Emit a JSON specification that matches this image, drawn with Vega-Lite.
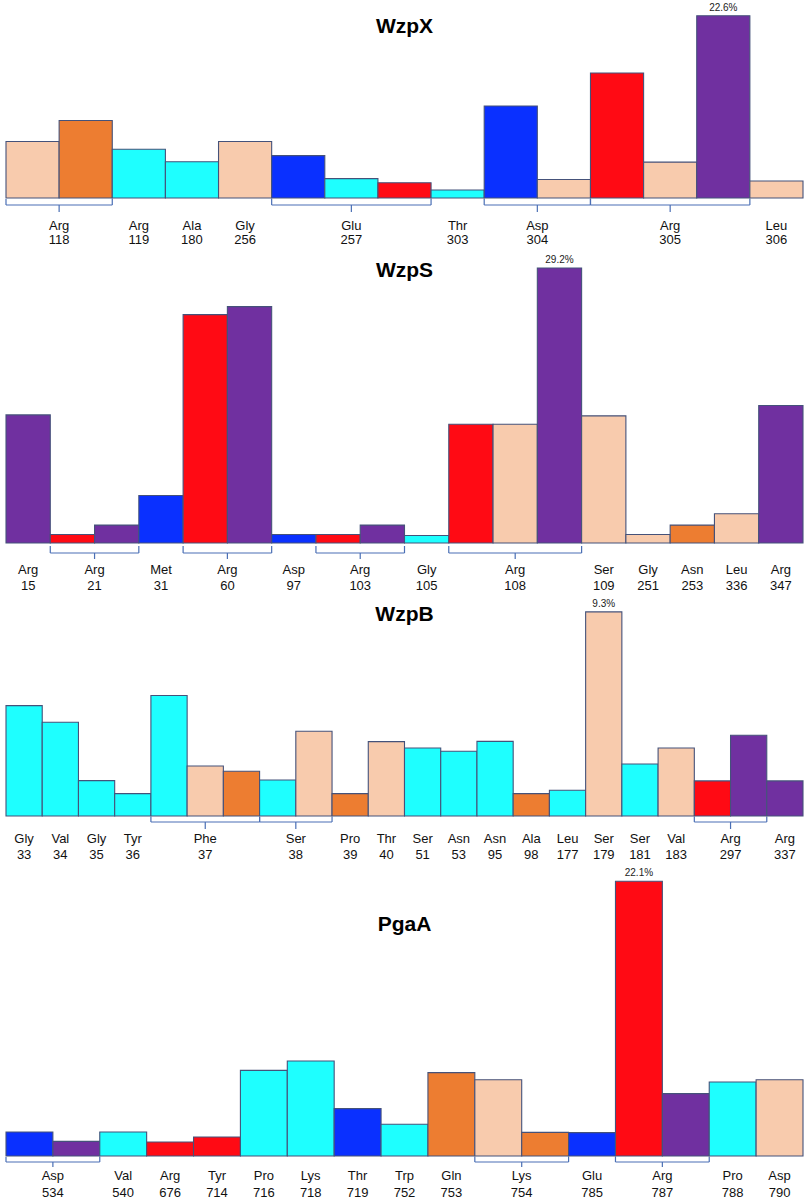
{
"$schema": "https://vega.github.io/schema/vega-lite/v6.json",
"padding": {"left": 5, "right": 5, "top": 0, "bottom": 0},
"config": {"view": {"stroke": null}},
"datasets": {
"bars": [
{"p":"WzpX","i":0,"c":"peach","v":7.0},{"p":"WzpX","i":1,"c":"orange","v":9.6},{"p":"WzpX","i":2,"c":"cyan","v":6.05},{"p":"WzpX","i":3,"c":"cyan","v":4.5},{"p":"WzpX","i":4,"c":"peach","v":7.0},{"p":"WzpX","i":5,"c":"blue","v":5.25},{"p":"WzpX","i":6,"c":"cyan","v":2.4},{"p":"WzpX","i":7,"c":"red","v":1.9},{"p":"WzpX","i":8,"c":"cyan","v":1.0},{"p":"WzpX","i":9,"c":"blue","v":11.4},{"p":"WzpX","i":10,"c":"peach","v":2.3},{"p":"WzpX","i":11,"c":"red","v":15.5},{"p":"WzpX","i":12,"c":"peach","v":4.45},{"p":"WzpX","i":13,"c":"purple","v":22.6},{"p":"WzpX","i":14,"c":"peach","v":2.1},
{"p":"WzpS","i":0,"c":"purple","v":13.6},{"p":"WzpS","i":1,"c":"red","v":0.9},{"p":"WzpS","i":2,"c":"purple","v":1.9},{"p":"WzpS","i":3,"c":"blue","v":5.05},{"p":"WzpS","i":4,"c":"red","v":24.25},{"p":"WzpS","i":5,"c":"purple","v":25.1},{"p":"WzpS","i":6,"c":"blue","v":0.9},{"p":"WzpS","i":7,"c":"red","v":0.9},{"p":"WzpS","i":8,"c":"purple","v":1.9},{"p":"WzpS","i":9,"c":"cyan","v":0.8},{"p":"WzpS","i":10,"c":"red","v":12.6},{"p":"WzpS","i":11,"c":"peach","v":12.6},{"p":"WzpS","i":12,"c":"purple","v":29.2},{"p":"WzpS","i":13,"c":"peach","v":13.5},{"p":"WzpS","i":14,"c":"peach","v":0.9},{"p":"WzpS","i":15,"c":"orange","v":1.9},{"p":"WzpS","i":16,"c":"peach","v":3.1},{"p":"WzpS","i":17,"c":"purple","v":14.6},
{"p":"WzpB","i":0,"c":"cyan","v":5.03},{"p":"WzpB","i":1,"c":"cyan","v":4.27},{"p":"WzpB","i":2,"c":"cyan","v":1.61},{"p":"WzpB","i":3,"c":"cyan","v":1.02},{"p":"WzpB","i":4,"c":"cyan","v":5.49},{"p":"WzpB","i":5,"c":"peach","v":2.28},{"p":"WzpB","i":6,"c":"orange","v":2.04},{"p":"WzpB","i":7,"c":"cyan","v":1.64},{"p":"WzpB","i":8,"c":"peach","v":3.86},{"p":"WzpB","i":9,"c":"orange","v":1.02},{"p":"WzpB","i":10,"c":"peach","v":3.39},{"p":"WzpB","i":11,"c":"cyan","v":3.1},{"p":"WzpB","i":12,"c":"cyan","v":2.95},{"p":"WzpB","i":13,"c":"cyan","v":3.4},{"p":"WzpB","i":14,"c":"orange","v":1.02},{"p":"WzpB","i":15,"c":"cyan","v":1.17},{"p":"WzpB","i":16,"c":"peach","v":9.3},{"p":"WzpB","i":17,"c":"cyan","v":2.37},{"p":"WzpB","i":18,"c":"peach","v":3.1},{"p":"WzpB","i":19,"c":"red","v":1.6},{"p":"WzpB","i":20,"c":"purple","v":3.68},{"p":"WzpB","i":21,"c":"purple","v":1.6},
{"p":"PgaA","i":0,"c":"blue","v":1.93},{"p":"PgaA","i":1,"c":"purple","v":1.18},{"p":"PgaA","i":2,"c":"cyan","v":1.93},{"p":"PgaA","i":3,"c":"red","v":1.13},{"p":"PgaA","i":4,"c":"red","v":1.53},{"p":"PgaA","i":5,"c":"cyan","v":6.89},{"p":"PgaA","i":6,"c":"cyan","v":7.64},{"p":"PgaA","i":7,"c":"blue","v":3.81},{"p":"PgaA","i":8,"c":"cyan","v":2.55},{"p":"PgaA","i":9,"c":"orange","v":6.71},{"p":"PgaA","i":10,"c":"peach","v":6.14},{"p":"PgaA","i":11,"c":"orange","v":1.9},{"p":"PgaA","i":12,"c":"blue","v":1.88},{"p":"PgaA","i":13,"c":"red","v":22.1},{"p":"PgaA","i":14,"c":"purple","v":5.02},{"p":"PgaA","i":15,"c":"cyan","v":5.95},{"p":"PgaA","i":16,"c":"peach","v":6.14}
],
"tops": [
{"p":"WzpX","m":13.5,"v":22.6,"lab":"22.6%"},
{"p":"WzpS","m":12.5,"v":29.2,"lab":"29.2%"},
{"p":"WzpB","m":16.5,"v":9.3,"lab":"9.3%"},
{"p":"PgaA","m":13.5,"v":22.1,"lab":"22.1%"}
],
"groups": [
{"p":"WzpX","s":0,"e":2,"m":1,"res":"Arg","num":"118"},{"p":"WzpX","s":2,"e":3,"m":2.5,"res":"Arg","num":"119"},{"p":"WzpX","s":3,"e":4,"m":3.5,"res":"Ala","num":"180"},{"p":"WzpX","s":4,"e":5,"m":4.5,"res":"Gly","num":"256"},{"p":"WzpX","s":5,"e":8,"m":6.5,"res":"Glu","num":"257"},{"p":"WzpX","s":8,"e":9,"m":8.5,"res":"Thr","num":"303"},{"p":"WzpX","s":9,"e":11,"m":10,"res":"Asp","num":"304"},{"p":"WzpX","s":11,"e":14,"m":12.5,"res":"Arg","num":"305"},{"p":"WzpX","s":14,"e":15,"m":14.5,"res":"Leu","num":"306"},
{"p":"WzpS","s":0,"e":1,"m":0.5,"res":"Arg","num":"15"},{"p":"WzpS","s":1,"e":3,"m":2,"res":"Arg","num":"21"},{"p":"WzpS","s":3,"e":4,"m":3.5,"res":"Met","num":"31"},{"p":"WzpS","s":4,"e":6,"m":5,"res":"Arg","num":"60"},{"p":"WzpS","s":6,"e":7,"m":6.5,"res":"Asp","num":"97"},{"p":"WzpS","s":7,"e":9,"m":8,"res":"Arg","num":"103"},{"p":"WzpS","s":9,"e":10,"m":9.5,"res":"Gly","num":"105"},{"p":"WzpS","s":10,"e":13,"m":11.5,"res":"Arg","num":"108"},{"p":"WzpS","s":13,"e":14,"m":13.5,"res":"Ser","num":"109"},{"p":"WzpS","s":14,"e":15,"m":14.5,"res":"Gly","num":"251"},{"p":"WzpS","s":15,"e":16,"m":15.5,"res":"Asn","num":"253"},{"p":"WzpS","s":16,"e":17,"m":16.5,"res":"Leu","num":"336"},{"p":"WzpS","s":17,"e":18,"m":17.5,"res":"Arg","num":"347"},
{"p":"WzpB","s":0,"e":1,"m":0.5,"res":"Gly","num":"33"},{"p":"WzpB","s":1,"e":2,"m":1.5,"res":"Val","num":"34"},{"p":"WzpB","s":2,"e":3,"m":2.5,"res":"Gly","num":"35"},{"p":"WzpB","s":3,"e":4,"m":3.5,"res":"Tyr","num":"36"},{"p":"WzpB","s":4,"e":7,"m":5.5,"res":"Phe","num":"37"},{"p":"WzpB","s":7,"e":9,"m":8,"res":"Ser","num":"38"},{"p":"WzpB","s":9,"e":10,"m":9.5,"res":"Pro","num":"39"},{"p":"WzpB","s":10,"e":11,"m":10.5,"res":"Thr","num":"40"},{"p":"WzpB","s":11,"e":12,"m":11.5,"res":"Ser","num":"51"},{"p":"WzpB","s":12,"e":13,"m":12.5,"res":"Asn","num":"53"},{"p":"WzpB","s":13,"e":14,"m":13.5,"res":"Asn","num":"95"},{"p":"WzpB","s":14,"e":15,"m":14.5,"res":"Ala","num":"98"},{"p":"WzpB","s":15,"e":16,"m":15.5,"res":"Leu","num":"177"},{"p":"WzpB","s":16,"e":17,"m":16.5,"res":"Ser","num":"179"},{"p":"WzpB","s":17,"e":18,"m":17.5,"res":"Ser","num":"181"},{"p":"WzpB","s":18,"e":19,"m":18.5,"res":"Val","num":"183"},{"p":"WzpB","s":19,"e":21,"m":20,"res":"Arg","num":"297"},{"p":"WzpB","s":21,"e":22,"m":21.5,"res":"Arg","num":"337"},
{"p":"PgaA","s":0,"e":2,"m":1,"res":"Asp","num":"534"},{"p":"PgaA","s":2,"e":3,"m":2.5,"res":"Val","num":"540"},{"p":"PgaA","s":3,"e":4,"m":3.5,"res":"Arg","num":"676"},{"p":"PgaA","s":4,"e":5,"m":4.5,"res":"Tyr","num":"714"},{"p":"PgaA","s":5,"e":6,"m":5.5,"res":"Pro","num":"716"},{"p":"PgaA","s":6,"e":7,"m":6.5,"res":"Lys","num":"718"},{"p":"PgaA","s":7,"e":8,"m":7.5,"res":"Thr","num":"719"},{"p":"PgaA","s":8,"e":9,"m":8.5,"res":"Trp","num":"752"},{"p":"PgaA","s":9,"e":10,"m":9.5,"res":"Gln","num":"753"},{"p":"PgaA","s":10,"e":12,"m":11,"res":"Lys","num":"754"},{"p":"PgaA","s":12,"e":13,"m":12.5,"res":"Glu","num":"785"},{"p":"PgaA","s":13,"e":15,"m":14,"res":"Arg","num":"787"},{"p":"PgaA","s":15,"e":16,"m":15.5,"res":"Pro","num":"788"},{"p":"PgaA","s":16,"e":17,"m":16.5,"res":"Asp","num":"790"}
]
},
"vconcat": [
{
"width": 797, "height": 198,
"title": {"text": "WzpX", "offset": -48, "baseline": "middle", "anchor": "middle", "frame": "group", "fontSize": 21, "font": "Liberation Sans", "fontWeight": "bold", "color": "#000000"},
"resolve": {"scale": {"x": "independent"}},
"layer": [
{"data": {"name": "bars"}, "transform": [{"filter": "datum.p === 'WzpX'"}],
 "mark": {"type": "bar", "stroke": "#45527A", "strokeWidth": 1.1},
 "encoding": {
  "x": {"field": "i", "type": "ordinal", "axis": null, "scale": {"paddingInner": 0, "paddingOuter": 0}},
  "y": {"field": "v", "type": "quantitative", "axis": null, "scale": {"domain": [0, 24.55], "nice": false}},
  "color": {"field": "c", "type": "nominal", "legend": null, "scale": {"domain": ["peach","orange","cyan","blue","red","purple"], "range": ["#F8CBAD","#ED7D31","#1EFFFF","#0A30FF","#FF0A14","#7030A0"]}}}},
{"data": {"name": "tops"}, "transform": [{"filter": "datum.p === 'WzpX'"}],
 "mark": {"type": "text", "baseline": "bottom", "dy": -3, "fontSize": 10, "font": "Liberation Sans", "color": "#222222"},
 "encoding": {"x": {"field": "m", "type": "quantitative", "axis": null, "scale": {"domain": [0, 15], "nice": false, "zero": false}}, "y": {"field": "v", "type": "quantitative"}, "text": {"field": "lab"}}},
{"data": {"name": "groups"}, "transform": [{"filter": "datum.p === 'WzpX' && datum.e - datum.s > 1"}],
 "mark": {"type": "rule", "color": "#4A6FB5", "strokeWidth": 1.2, "yOffset": 7},
 "encoding": {"x": {"field": "s", "type": "quantitative", "axis": null, "scale": {"domain": [0, 15], "nice": false, "zero": false}}, "x2": {"field": "e"}, "y": {"datum": 0}}},
{"data": {"name": "groups"}, "transform": [{"filter": "datum.p === 'WzpX' && datum.e - datum.s > 1"}],
 "mark": {"type": "rule", "color": "#4A6FB5", "strokeWidth": 1.2, "yOffset": 1, "y2Offset": 7},
 "encoding": {"x": {"field": "s", "type": "quantitative", "axis": null, "scale": {"domain": [0, 15], "nice": false, "zero": false}}, "y": {"datum": 0}, "y2": {"datum": 0}}},
{"data": {"name": "groups"}, "transform": [{"filter": "datum.p === 'WzpX' && datum.e - datum.s > 1"}],
 "mark": {"type": "rule", "color": "#4A6FB5", "strokeWidth": 1.2, "yOffset": 1, "y2Offset": 7},
 "encoding": {"x": {"field": "e", "type": "quantitative", "axis": null, "scale": {"domain": [0, 15], "nice": false, "zero": false}}, "y": {"datum": 0}, "y2": {"datum": 0}}},
{"data": {"name": "groups"}, "transform": [{"filter": "datum.p === 'WzpX' && datum.e - datum.s > 1"}],
 "mark": {"type": "rule", "color": "#4A6FB5", "strokeWidth": 1.2, "yOffset": 7, "y2Offset": 14},
 "encoding": {"x": {"field": "m", "type": "quantitative", "axis": null, "scale": {"domain": [0, 15], "nice": false, "zero": false}}, "y": {"datum": 0}, "y2": {"datum": 0}}},
{"data": {"name": "groups"}, "transform": [{"filter": "datum.p === 'WzpX'"}],
 "mark": {"type": "text", "baseline": "middle", "dy": 28, "fontSize": 13, "font": "Liberation Sans", "color": "#111111"},
 "encoding": {"x": {"field": "m", "type": "quantitative", "axis": null, "scale": {"domain": [0, 15], "nice": false, "zero": false}}, "y": {"datum": 0}, "text": {"field": "res"}}},
{"data": {"name": "groups"}, "transform": [{"filter": "datum.p === 'WzpX'"}],
 "mark": {"type": "text", "baseline": "middle", "dy": 42, "fontSize": 13, "font": "Liberation Sans", "color": "#111111"},
 "encoding": {"x": {"field": "m", "type": "quantitative", "axis": null, "scale": {"domain": [0, 15], "nice": false, "zero": false}}, "y": {"datum": 0}, "text": {"field": "num"}}}
]
},
{
"width": 797, "height": 295,
"title": {"text": "WzpS", "offset": -44, "baseline": "middle", "anchor": "middle", "frame": "group", "fontSize": 21, "font": "Liberation Sans", "fontWeight": "bold", "color": "#000000"},
"resolve": {"scale": {"x": "independent"}},
"layer": [
{"data": {"name": "bars"}, "transform": [{"filter": "datum.p === 'WzpS'"}],
 "mark": {"type": "bar", "stroke": "#45527A", "strokeWidth": 1.1},
 "encoding": {
  "x": {"field": "i", "type": "ordinal", "axis": null, "scale": {"paddingInner": 0, "paddingOuter": 0}},
  "y": {"field": "v", "type": "quantitative", "axis": null, "scale": {"domain": [0, 31.32], "nice": false}},
  "color": {"field": "c", "type": "nominal", "legend": null, "scale": {"domain": ["peach","orange","cyan","blue","red","purple"], "range": ["#F8CBAD","#ED7D31","#1EFFFF","#0A30FF","#FF0A14","#7030A0"]}}}},
{"data": {"name": "tops"}, "transform": [{"filter": "datum.p === 'WzpS'"}],
 "mark": {"type": "text", "baseline": "bottom", "dy": -3, "fontSize": 10, "font": "Liberation Sans", "color": "#222222"},
 "encoding": {"x": {"field": "m", "type": "quantitative", "axis": null, "scale": {"domain": [0, 18], "nice": false, "zero": false}}, "y": {"field": "v", "type": "quantitative"}, "text": {"field": "lab"}}},
{"data": {"name": "groups"}, "transform": [{"filter": "datum.p === 'WzpS' && datum.e - datum.s > 1"}],
 "mark": {"type": "rule", "color": "#4A6FB5", "strokeWidth": 1.2, "yOffset": 10},
 "encoding": {"x": {"field": "s", "type": "quantitative", "axis": null, "scale": {"domain": [0, 18], "nice": false, "zero": false}}, "x2": {"field": "e"}, "y": {"datum": 0}}},
{"data": {"name": "groups"}, "transform": [{"filter": "datum.p === 'WzpS' && datum.e - datum.s > 1"}],
 "mark": {"type": "rule", "color": "#4A6FB5", "strokeWidth": 1.2, "yOffset": 3, "y2Offset": 10},
 "encoding": {"x": {"field": "s", "type": "quantitative", "axis": null, "scale": {"domain": [0, 18], "nice": false, "zero": false}}, "y": {"datum": 0}, "y2": {"datum": 0}}},
{"data": {"name": "groups"}, "transform": [{"filter": "datum.p === 'WzpS' && datum.e - datum.s > 1"}],
 "mark": {"type": "rule", "color": "#4A6FB5", "strokeWidth": 1.2, "yOffset": 3, "y2Offset": 10},
 "encoding": {"x": {"field": "e", "type": "quantitative", "axis": null, "scale": {"domain": [0, 18], "nice": false, "zero": false}}, "y": {"datum": 0}, "y2": {"datum": 0}}},
{"data": {"name": "groups"}, "transform": [{"filter": "datum.p === 'WzpS' && datum.e - datum.s > 1"}],
 "mark": {"type": "rule", "color": "#4A6FB5", "strokeWidth": 1.2, "yOffset": 10, "y2Offset": 16},
 "encoding": {"x": {"field": "m", "type": "quantitative", "axis": null, "scale": {"domain": [0, 18], "nice": false, "zero": false}}, "y": {"datum": 0}, "y2": {"datum": 0}}},
{"data": {"name": "groups"}, "transform": [{"filter": "datum.p === 'WzpS'"}],
 "mark": {"type": "text", "baseline": "middle", "dy": 27, "fontSize": 13, "font": "Liberation Sans", "color": "#111111"},
 "encoding": {"x": {"field": "m", "type": "quantitative", "axis": null, "scale": {"domain": [0, 18], "nice": false, "zero": false}}, "y": {"datum": 0}, "text": {"field": "res"}}},
{"data": {"name": "groups"}, "transform": [{"filter": "datum.p === 'WzpS'"}],
 "mark": {"type": "text", "baseline": "middle", "dy": 43, "fontSize": 13, "font": "Liberation Sans", "color": "#111111"},
 "encoding": {"x": {"field": "m", "type": "quantitative", "axis": null, "scale": {"domain": [0, 18], "nice": false, "zero": false}}, "y": {"datum": 0}, "text": {"field": "num"}}}
]
},
{
"width": 797, "height": 223,
"title": {"text": "WzpB", "offset": -43, "baseline": "middle", "anchor": "middle", "frame": "group", "fontSize": 21, "font": "Liberation Sans", "fontWeight": "bold", "color": "#000000"},
"resolve": {"scale": {"x": "independent"}},
"layer": [
{"data": {"name": "bars"}, "transform": [{"filter": "datum.p === 'WzpB'"}],
 "mark": {"type": "bar", "stroke": "#45527A", "strokeWidth": 1.1},
 "encoding": {
  "x": {"field": "i", "type": "ordinal", "axis": null, "scale": {"paddingInner": 0, "paddingOuter": 0}},
  "y": {"field": "v", "type": "quantitative", "axis": null, "scale": {"domain": [0, 10.16], "nice": false}},
  "color": {"field": "c", "type": "nominal", "legend": null, "scale": {"domain": ["peach","orange","cyan","blue","red","purple"], "range": ["#F8CBAD","#ED7D31","#1EFFFF","#0A30FF","#FF0A14","#7030A0"]}}}},
{"data": {"name": "tops"}, "transform": [{"filter": "datum.p === 'WzpB'"}],
 "mark": {"type": "text", "baseline": "bottom", "dy": -3, "fontSize": 10, "font": "Liberation Sans", "color": "#222222"},
 "encoding": {"x": {"field": "m", "type": "quantitative", "axis": null, "scale": {"domain": [0, 22], "nice": false, "zero": false}}, "y": {"field": "v", "type": "quantitative"}, "text": {"field": "lab"}}},
{"data": {"name": "groups"}, "transform": [{"filter": "datum.p === 'WzpB' && datum.e - datum.s > 1"}],
 "mark": {"type": "rule", "color": "#4A6FB5", "strokeWidth": 1.2, "yOffset": 6},
 "encoding": {"x": {"field": "s", "type": "quantitative", "axis": null, "scale": {"domain": [0, 22], "nice": false, "zero": false}}, "x2": {"field": "e"}, "y": {"datum": 0}}},
{"data": {"name": "groups"}, "transform": [{"filter": "datum.p === 'WzpB' && datum.e - datum.s > 1"}],
 "mark": {"type": "rule", "color": "#4A6FB5", "strokeWidth": 1.2, "yOffset": 1, "y2Offset": 6},
 "encoding": {"x": {"field": "s", "type": "quantitative", "axis": null, "scale": {"domain": [0, 22], "nice": false, "zero": false}}, "y": {"datum": 0}, "y2": {"datum": 0}}},
{"data": {"name": "groups"}, "transform": [{"filter": "datum.p === 'WzpB' && datum.e - datum.s > 1"}],
 "mark": {"type": "rule", "color": "#4A6FB5", "strokeWidth": 1.2, "yOffset": 1, "y2Offset": 6},
 "encoding": {"x": {"field": "e", "type": "quantitative", "axis": null, "scale": {"domain": [0, 22], "nice": false, "zero": false}}, "y": {"datum": 0}, "y2": {"datum": 0}}},
{"data": {"name": "groups"}, "transform": [{"filter": "datum.p === 'WzpB' && datum.e - datum.s > 1"}],
 "mark": {"type": "rule", "color": "#4A6FB5", "strokeWidth": 1.2, "yOffset": 6, "y2Offset": 13},
 "encoding": {"x": {"field": "m", "type": "quantitative", "axis": null, "scale": {"domain": [0, 22], "nice": false, "zero": false}}, "y": {"datum": 0}, "y2": {"datum": 0}}},
{"data": {"name": "groups"}, "transform": [{"filter": "datum.p === 'WzpB'"}],
 "mark": {"type": "text", "baseline": "middle", "dy": 23, "fontSize": 13, "font": "Liberation Sans", "color": "#111111"},
 "encoding": {"x": {"field": "m", "type": "quantitative", "axis": null, "scale": {"domain": [0, 22], "nice": false, "zero": false}}, "y": {"datum": 0}, "text": {"field": "res"}}},
{"data": {"name": "groups"}, "transform": [{"filter": "datum.p === 'WzpB'"}],
 "mark": {"type": "text", "baseline": "middle", "dy": 39, "fontSize": 13, "font": "Liberation Sans", "color": "#111111"},
 "encoding": {"x": {"field": "m", "type": "quantitative", "axis": null, "scale": {"domain": [0, 22], "nice": false, "zero": false}}, "y": {"datum": 0}, "text": {"field": "num"}}}
]
},
{
"width": 797, "height": 290,
"title": {"text": "PgaA", "offset": -80, "baseline": "middle", "anchor": "middle", "frame": "group", "fontSize": 21, "font": "Liberation Sans", "fontWeight": "bold", "color": "#000000"},
"resolve": {"scale": {"x": "independent"}},
"layer": [
{"data": {"name": "bars"}, "transform": [{"filter": "datum.p === 'PgaA'"}],
 "mark": {"type": "bar", "stroke": "#45527A", "strokeWidth": 1.1},
 "encoding": {
  "x": {"field": "i", "type": "ordinal", "axis": null, "scale": {"paddingInner": 0, "paddingOuter": 0}},
  "y": {"field": "v", "type": "quantitative", "axis": null, "scale": {"domain": [0, 23.33], "nice": false}},
  "color": {"field": "c", "type": "nominal", "legend": null, "scale": {"domain": ["peach","orange","cyan","blue","red","purple"], "range": ["#F8CBAD","#ED7D31","#1EFFFF","#0A30FF","#FF0A14","#7030A0"]}}}},
{"data": {"name": "tops"}, "transform": [{"filter": "datum.p === 'PgaA'"}],
 "mark": {"type": "text", "baseline": "bottom", "dy": -3, "fontSize": 10, "font": "Liberation Sans", "color": "#222222"},
 "encoding": {"x": {"field": "m", "type": "quantitative", "axis": null, "scale": {"domain": [0, 17], "nice": false, "zero": false}}, "y": {"field": "v", "type": "quantitative"}, "text": {"field": "lab"}}},
{"data": {"name": "groups"}, "transform": [{"filter": "datum.p === 'PgaA' && datum.e - datum.s > 1"}],
 "mark": {"type": "rule", "color": "#4A6FB5", "strokeWidth": 1.2, "yOffset": 6},
 "encoding": {"x": {"field": "s", "type": "quantitative", "axis": null, "scale": {"domain": [0, 17], "nice": false, "zero": false}}, "x2": {"field": "e"}, "y": {"datum": 0}}},
{"data": {"name": "groups"}, "transform": [{"filter": "datum.p === 'PgaA' && datum.e - datum.s > 1"}],
 "mark": {"type": "rule", "color": "#4A6FB5", "strokeWidth": 1.2, "yOffset": 1, "y2Offset": 6},
 "encoding": {"x": {"field": "s", "type": "quantitative", "axis": null, "scale": {"domain": [0, 17], "nice": false, "zero": false}}, "y": {"datum": 0}, "y2": {"datum": 0}}},
{"data": {"name": "groups"}, "transform": [{"filter": "datum.p === 'PgaA' && datum.e - datum.s > 1"}],
 "mark": {"type": "rule", "color": "#4A6FB5", "strokeWidth": 1.2, "yOffset": 1, "y2Offset": 6},
 "encoding": {"x": {"field": "e", "type": "quantitative", "axis": null, "scale": {"domain": [0, 17], "nice": false, "zero": false}}, "y": {"datum": 0}, "y2": {"datum": 0}}},
{"data": {"name": "groups"}, "transform": [{"filter": "datum.p === 'PgaA' && datum.e - datum.s > 1"}],
 "mark": {"type": "rule", "color": "#4A6FB5", "strokeWidth": 1.2, "yOffset": 6, "y2Offset": 11},
 "encoding": {"x": {"field": "m", "type": "quantitative", "axis": null, "scale": {"domain": [0, 17], "nice": false, "zero": false}}, "y": {"datum": 0}, "y2": {"datum": 0}}},
{"data": {"name": "groups"}, "transform": [{"filter": "datum.p === 'PgaA'"}],
 "mark": {"type": "text", "baseline": "middle", "dy": 20, "fontSize": 13, "font": "Liberation Sans", "color": "#111111"},
 "encoding": {"x": {"field": "m", "type": "quantitative", "axis": null, "scale": {"domain": [0, 17], "nice": false, "zero": false}}, "y": {"datum": 0}, "text": {"field": "res"}}},
{"data": {"name": "groups"}, "transform": [{"filter": "datum.p === 'PgaA'"}],
 "mark": {"type": "text", "baseline": "middle", "dy": 37, "fontSize": 13, "font": "Liberation Sans", "color": "#111111"},
 "encoding": {"x": {"field": "m", "type": "quantitative", "axis": null, "scale": {"domain": [0, 17], "nice": false, "zero": false}}, "y": {"datum": 0}, "text": {"field": "num"}}}
]
}
],
"spacing": 50,
"bounds": "flush"
}
